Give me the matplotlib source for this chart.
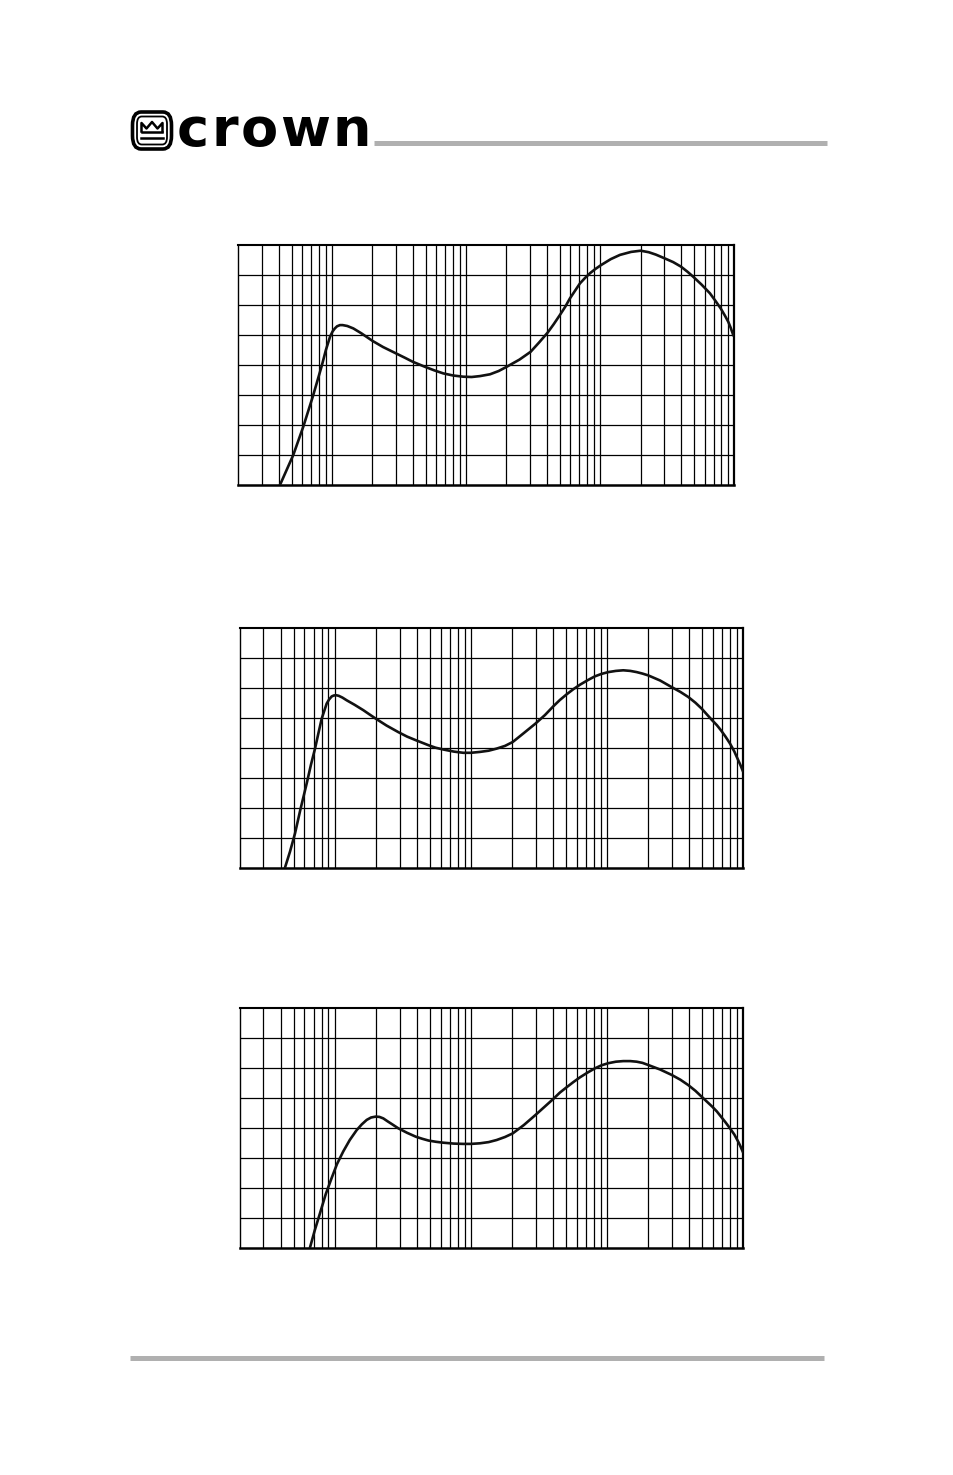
import numpy as np
import matplotlib.pyplot as plt
from matplotlib.patches import FancyBboxPatch

# frequency grid: 20 Hz .. 100 kHz, y in grid rows (0..8)
f_min, f_max = 20, 100000
y_min, y_max = 0, 8

# curve 1
freq1 = [40.9, 51.4, 61, 71.8, 83.8, 90, 96.6, 101, 105, 109, 114.6, 120, 130, 144, 165,
         201, 240, 299, 350, 399, 493, 580, 676, 800, 952, 1100, 1268, 1507, 1750, 2006,
         2500, 3027, 3500, 4055, 4500, 5010, 5500, 5945, 6500, 7060, 7700, 8395, 9200,
         10140, 12000, 14040, 17000, 20040, 23000, 26000, 30060, 35000, 40000, 45000,
         49440, 57000, 65800, 72000, 79080, 85000, 90160, 94000, 98200]
resp1 = [0.0, 1.0, 1.94, 2.94, 3.97, 4.5, 4.94, 5.12, 5.22, 5.29, 5.33, 5.33, 5.3, 5.22, 5.06,
         4.8, 4.6, 4.39, 4.24, 4.11, 3.94, 3.82, 3.72, 3.65, 3.61, 3.6, 3.63, 3.69, 3.8, 3.94,
         4.18, 4.44, 4.75, 5.08, 5.36, 5.67, 5.95, 6.22, 6.48, 6.72, 6.9, 7.06, 7.2,
         7.33, 7.53, 7.67, 7.77, 7.81, 7.76, 7.68, 7.56, 7.43, 7.28, 7.1,
         6.94, 6.68, 6.39, 6.15, 5.89, 5.65, 5.44, 5.24, 5.0]

# curve 2
freq2 = [43.2, 47, 51.1, 56, 62.3, 67, 71.7, 76, 80.3, 84, 87.3, 91, 95.1, 98.5, 102.3,
         107, 114, 122.5, 140, 162.3, 180, 200, 240, 293, 340, 394, 490, 550, 627, 750,
         879, 1000, 1166, 1350, 1546, 1780, 2028, 2450, 2972, 3500, 4029, 4500, 5050,
         5650, 6325, 7200, 8150, 9100, 10200, 11600, 13150, 14800, 16490, 18200, 20050,
         24500, 29780, 34500, 39450, 44500, 49540, 54000, 59200, 64000, 68560, 74000,
         79830, 86000, 91850, 95500, 99080]
resp2 = [0.02, 0.55, 1.15, 1.95, 2.82, 3.45, 3.98, 4.5, 4.98, 5.25, 5.48, 5.62, 5.72, 5.75, 5.76,
         5.74, 5.68, 5.59, 5.44, 5.26, 5.12, 4.98, 4.75, 4.53, 4.38, 4.26, 4.09, 4.01, 3.95, 3.88,
         3.84, 3.84, 3.87, 3.91, 3.98, 4.07, 4.20, 4.5, 4.81, 5.1, 5.39, 5.6, 5.79,
         5.96, 6.11, 6.26, 6.39, 6.47, 6.53, 6.57, 6.59, 6.57, 6.53, 6.48, 6.42,
         6.25, 6.03, 5.87, 5.70, 5.51, 5.31, 5.12, 4.92, 4.76, 4.59, 4.38,
         4.15, 3.88, 3.59, 3.42, 3.24]

# curve 3
freq3 = [65.9, 71.5, 78, 86, 95.1, 104, 115.6, 129, 145, 158, 171.8, 185, 200, 213, 227.4,
         245, 265, 293, 340, 394, 440, 490, 555, 627, 750, 879, 1000, 1166, 1350, 1546,
         1780, 2028, 2450, 2972, 3500, 4029, 4500, 5050, 5650, 6325, 7200, 8150, 9100,
         10200, 11600, 13150, 14800, 16490, 18200, 20050, 24500, 29780, 34500, 39450,
         44500, 49540, 54000, 59200, 64000, 68560, 74000, 79830, 86000, 91850, 95500, 99080]
resp3 = [0.02, 0.6, 1.16, 1.8, 2.34, 2.8, 3.22, 3.6, 3.93, 4.12, 4.27, 4.35, 4.38, 4.37, 4.32,
         4.22, 4.12, 3.99, 3.84, 3.71, 3.64, 3.58, 3.54, 3.51, 3.48, 3.47, 3.47, 3.49, 3.53, 3.6,
         3.7, 3.82, 4.1, 4.43, 4.72, 4.97, 5.18, 5.36, 5.53, 5.69, 5.85, 5.99, 6.09,
         6.16, 6.21, 6.23, 6.23, 6.21, 6.17, 6.1, 5.95, 5.77, 5.61, 5.43,
         5.24, 5.04, 4.88, 4.71, 4.55, 4.38, 4.19, 3.99, 3.78, 3.54, 3.38, 3.21]

W, H = 954, 1475
fig = plt.figure(figsize=(W / 100, H / 100), dpi=100)

# header: logo + gray rule
fig.add_artist(FancyBboxPatch((132.5 / W, 1 - 149 / H), 39 / W, 37 / H,
                              boxstyle="round,pad=0,rounding_size=0.009",
                              transform=fig.transFigure, fc="white", ec="black", lw=2.6))
fig.add_artist(FancyBboxPatch((137 / W, 1 - 144.5 / H), 30 / W, 28 / H,
                              boxstyle="round,pad=0,rounding_size=0.005",
                              transform=fig.transFigure, fc="white", ec="black", lw=1.3))
cx = np.array([141.5, 141.5, 146.5, 152, 157.5, 162.5, 162.5]) / W
cy = 1 - np.array([131.5, 123, 128.5, 122, 128.5, 123, 131.5]) / H
fig.add_artist(plt.Line2D(cx, cy, color="black", lw=1.8, transform=fig.transFigure))
fig.add_artist(plt.Line2D([141.5 / W, 162.5 / W], [1 - 131.5 / H] * 2, color="black", lw=1.8,
                          transform=fig.transFigure))
fig.add_artist(plt.Line2D([141 / W, 163 / W], [1 - 137.5 / H] * 2, color="black", lw=1.8,
                          transform=fig.transFigure))
# slightly spaced letters of the wordmark
for ch, x in zip("crown", [177, 211.4, 240.4, 279.9, 332.3]):
    fig.text(x / W, 1 - 146 / H, ch, fontsize=39, fontweight="heavy",
             family="DejaVu Sans", va="baseline", ha="left")
fig.add_artist(plt.Line2D([374 / W, 827 / W], [1 - 142.5 / H] * 2, color="#b0b0b0", lw=3.6,
                          solid_capstyle="butt", transform=fig.transFigure))
fig.add_artist(plt.Line2D([130 / W, 824 / W], [1 - 1357.5 / H] * 2, color="#b0b0b0", lw=3.6,
                          solid_capstyle="butt", transform=fig.transFigure))

# axes rectangles (left, bottom, width, height) in figure fraction
rects = [
    (238.3 / W, 1 - 485 / H, 496 / W, 240 / H),
    (239.5 / W, 1 - 868 / H, 503.8 / W, 240 / H),
    (239.5 / W, 1 - 1248 / H, 503.8 / W, 240 / H),
]
curves = [(freq1, resp1), (freq2, resp2), (freq3, resp3)]

minor = [m * 10 ** k for k in range(1, 5) for m in range(2, 10)]
major = [10 ** k for k in range(2, 5)]

for rect, (fx, ry) in zip(rects, curves):
    ax = fig.add_axes(rect)
    ax.set_xscale("log")
    ax.set_xlim(f_min, f_max)
    ax.set_ylim(y_min, y_max)
    for v in minor + major:
        if f_min < v < f_max:
            ax.axvline(v, color="black", lw=0.9, zorder=1)
    for r in range(1, 8):
        ax.axhline(r, color="black", lw=0.9, zorder=1)
    ax.plot(fx, ry, color="#111111", lw=1.9, zorder=3, solid_joinstyle="round")
    ax.set_xticks([])
    ax.set_yticks([])
    ax.minorticks_off()
    for side, lw in [("left", 1.0), ("top", 1.5), ("right", 1.6), ("bottom", 1.8)]:
        ax.spines[side].set_linewidth(lw)

fig.savefig("out.png", dpi=100)
